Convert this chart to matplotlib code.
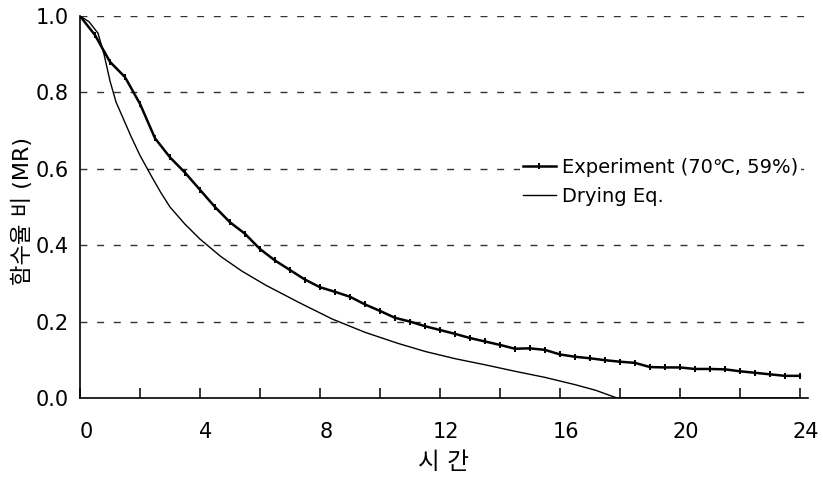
import numpy as np
import matplotlib
matplotlib.use('Agg')
import matplotlib.pyplot as plt
import matplotlib.transforms as mtransforms

plt.rcParams['font.family'] = ['DejaVu Sans', 'Noto Sans CJK KR']

# measured moisture ratio, every 0.5 h
t_exp = np.arange(0, 24.01, 0.5)
mr_exp = [1.00, 0.95, 0.88, 0.84, 0.77, 0.68, 0.63, 0.59, 0.545, 0.50,
          0.46, 0.43, 0.39, 0.36, 0.335, 0.31, 0.29, 0.278, 0.265, 0.245,
          0.228, 0.21, 0.20, 0.188, 0.178, 0.168, 0.157, 0.148, 0.139, 0.129,
          0.130, 0.126, 0.114, 0.108, 0.104, 0.099, 0.095, 0.092, 0.081, 0.080,
          0.080, 0.076, 0.076, 0.075, 0.070, 0.066, 0.062, 0.058, 0.058]

# drying equation curve
t_eq = [0, 0.3, 0.6, 0.8, 1.0, 1.2, 1.45, 1.7, 2.0, 2.4, 2.7, 3.0, 3.5, 4.0,
        4.7, 5.4, 6.2, 7.3, 8.4, 9.5, 10.6, 11.5, 12.5, 13.5, 14.5, 15.5,
        16.5, 17.2, 17.9, 24]
mr_eq = [1.0, 0.985, 0.955, 0.90, 0.83, 0.775, 0.73, 0.685, 0.635, 0.578,
         0.537, 0.50, 0.455, 0.416, 0.37, 0.332, 0.295, 0.25, 0.207, 0.172,
         0.143, 0.122, 0.103, 0.087, 0.07, 0.054, 0.035, 0.02, 0.0, 0.0]

fig = plt.figure(figsize=(8.23, 4.79), dpi=100)
ax = fig.add_axes([80/823, 1-398/479, 728/823, 382/479])

ax.plot(t_exp, mr_exp, color='black', lw=1.8, marker='|', ms=5, mew=1.4,
        label='Experiment (70\u2103, 59%)', zorder=3)
ax.plot(t_eq, mr_eq, color='black', lw=1.0, label='Drying Eq.', zorder=3)

ax.set_xlim(0, 24.27)
ax.set_ylim(0, 1.0)
ax.set_xticks(range(0, 25, 4))
ax.set_xticks(range(0, 25, 2), minor=True)
ax.set_yticks([0.0, 0.2, 0.4, 0.6, 0.8, 1.0])
ax.set_yticklabels(['0.0', '0.2', '0.4', '0.6', '0.8', '1.0'])

for y in [0.2, 0.4, 0.6, 0.8, 1.0]:
    ax.axhline(y, color='#333333', lw=1.0, ls=(0, (5, 7)), zorder=1)

for s in ['top', 'right']:
    ax.spines[s].set_visible(False)
for s in ['left', 'bottom']:
    ax.spines[s].set_linewidth(1.2)

ax.tick_params(axis='x', which='both', direction='in', length=7, width=1.1,
               pad=17, labelsize=15)
ax.tick_params(axis='y', length=0, pad=8, labelsize=15)

shift = mtransforms.ScaledTranslation(6/100, 0, fig.dpi_scale_trans)
for lbl in ax.get_xticklabels():
    lbl.set_transform(lbl.get_transform() + shift)

ax.set_xlabel('시 간', fontsize=17)
ax.xaxis.set_label_coords(0.5, -0.135)
ax.set_ylabel('함수율 비 (MR)', fontsize=16)
ax.yaxis.set_label_coords(-0.064, 0.49)

leg = ax.legend(loc='upper left', bbox_to_anchor=(520/823, 1-155/479),
                bbox_transform=fig.transFigure, fontsize=14, frameon=True,
                borderpad=0.15, borderaxespad=0, labelspacing=0.5,
                handlelength=1.7, handletextpad=0.3, fancybox=False)
leg.get_frame().set_edgecolor('none')
leg.get_frame().set_facecolor('white')
leg.get_frame().set_alpha(1)

fig.savefig('out.png', dpi=100)
